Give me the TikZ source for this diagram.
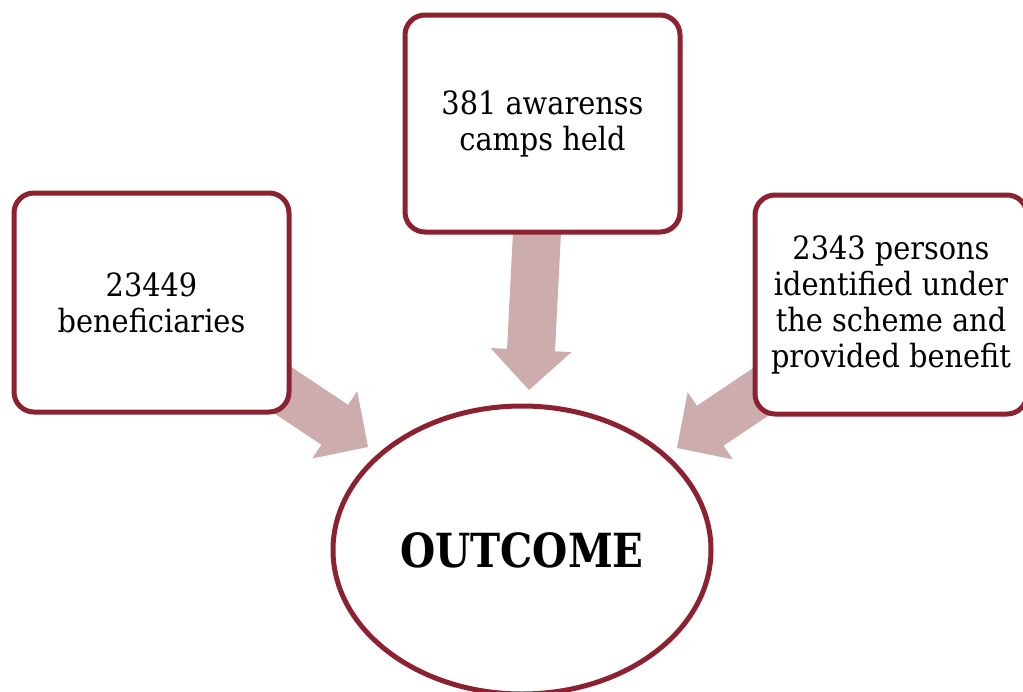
\documentclass[tikz,border=0pt]{standalone}
\usepackage{fontspec}
\setmainfont{DejaVu Serif}[FakeStretch=0.9]
\newfontfamily\outfont{DejaVu Serif}[FakeStretch=0.86]
\usetikzlibrary{shapes.geometric,calc,backgrounds}
\definecolor{bordred}{HTML}{8C2230}
\definecolor{arrowpink}{HTML}{CDACAD}
\tikzset{
  infobox/.style={draw=bordred, line width=5pt, rounded corners=20pt, fill=white,
    align=center, inner sep=0pt, font=\fontsize{32}{36}\selectfont},
  outcome/.style={ellipse, draw=bordred, line width=5pt, fill=white, inner sep=0pt,
    font=\outfont\fontsize{47}{52}\selectfont\bfseries, minimum width=378pt, minimum height=288pt},
  blockarrow/.style={fill=arrowpink, draw=none}
}
\newcommand{\blkarrow}[3]{% tail, tip, name
  \coordinate (#3b) at ($(#2)!40pt!(#1)$);
  \fill[blockarrow] ($(#1)!24pt!90:(#2)$) -- ($(#3b)!24pt!90:(#2)$) -- ($(#3b)!40.5pt!90:(#2)$)
    -- (#2) -- ($(#3b)!40.5pt!-90:(#2)$) -- ($(#3b)!24pt!-90:(#2)$) -- ($(#1)!24pt!-90:(#2)$) -- cycle;
}
\begin{document}
\begin{tikzpicture}[x=1pt,y=-1pt]
\useasboundingbox (0,0) rectangle (1023,691);
\node[infobox, minimum width=275pt, minimum height=219pt] (left) at (151.5,302.5) {23449\\beneficiaries};
\node[infobox, minimum width=275pt, minimum height=217pt] (top) at (542.5,123.5) {381 awarenss\\camps held};
\node[infobox, minimum width=272pt, minimum height=219pt] (right) at (891,304.5) {2343 persons\\identified under\\the scheme and\\provided benefit};
\node[outcome] (out) at (522,550) {OUTCOME};
\coordinate (tipL) at (368,447);
\coordinate (tipT) at (529,390);
\coordinate (tipR) at (677,448);
\begin{scope}[on background layer]
  \fill[white] (0,0) rectangle (1023,691);
  \blkarrow{left.center}{tipL}{aL}
  \blkarrow{top.center}{tipT}{aT}
  \blkarrow{right.center}{tipR}{aR}
\end{scope}
\end{tikzpicture}
\end{document}
